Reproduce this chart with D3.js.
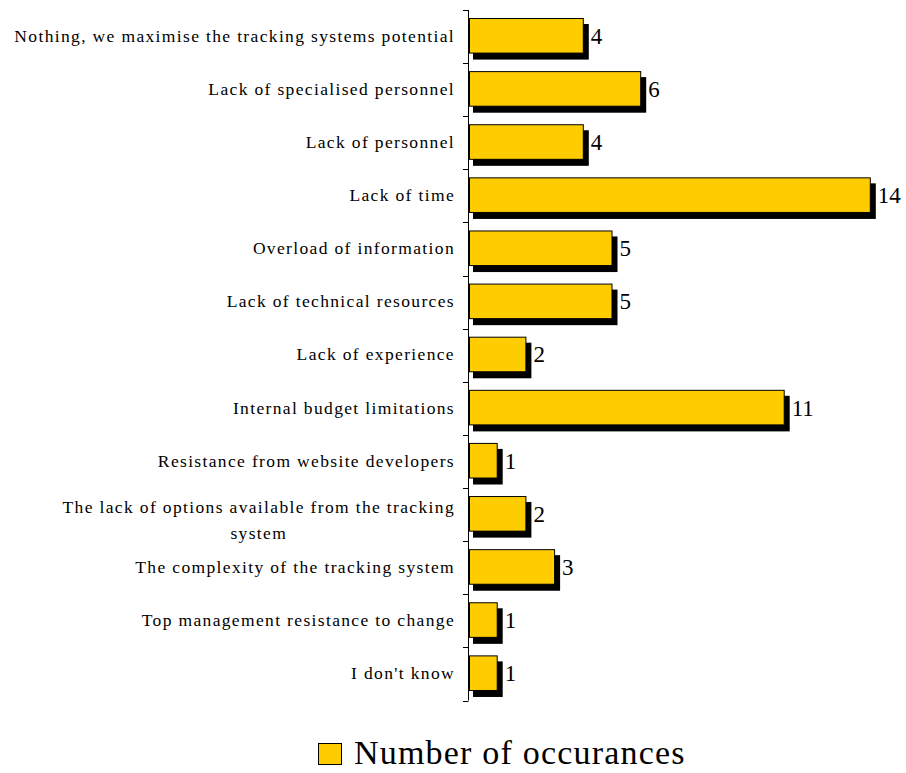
<!DOCTYPE html>
<meta charset="utf-8">
<style>
  body { margin: 0; background: #fff; }
  text { font-family: "Liberation Serif", "Times New Roman", serif; fill: #000; }
  .cat { font-size: 17.5px; letter-spacing: 1.35px; }
  .val { font-size: 23px; }
  .legend { font-size: 34px; letter-spacing: 1.2px; }
</style>
<body>
<script src="https://d3js.org/d3.v7.min.js"></script>
<script>
  // categories, top to bottom
  var categories = [
    "Nothing, we maximise the tracking systems potential",
    "Lack of specialised personnel",
    "Lack of personnel",
    "Lack of time",
    "Overload of information",
    "Lack of technical resources",
    "Lack of experience",
    "Internal budget limitations",
    "Resistance from website developers",
    "The lack of options available from the tracking|system",
    "The complexity of the tracking system",
    "Top management resistance to change",
    "I don't know"
  ];
  var values = [4, 6, 4, 14, 5, 5, 2, 11, 1, 2, 3, 1, 1];
  var seriesName = "Number of occurances";

  var width = 906, height = 773;
  var axisX = 468;
  var labelRight = 455;

  var svg = d3.select("body").append("svg")
    .attr("width", width)
    .attr("height", height);

  // scales
  var x = d3.scaleLinear().domain([0, 15]).range([axisX + 1, axisX + 1 + 15 * 28.7]);
  var y = d3.scaleBand().domain(categories).range([10, 700.5]).padding(0);

  var data = categories.map(function (c, i) { return { cat: c, value: values[i] }; });
  var barTop = 8, barH = y.bandwidth() * 0.67;

  // shadows
  svg.selectAll(".shadow")
    .data(data)
    .enter().append("rect")
    .attr("class", "shadow")
    .attr("x", x(0) + 4)
    .attr("y", function (d) { return y(d.cat) + barTop + 6; })
    .attr("width", function (d) { return x(d.value) - x(0) + 1; })
    .attr("height", barH)
    .attr("fill", "#000");

  // bars
  svg.selectAll(".bar")
    .data(data)
    .enter().append("rect")
    .attr("class", "bar")
    .attr("x", x(0) + 0.5)
    .attr("y", function (d) { return y(d.cat) + barTop + 0.5; })
    .attr("width", function (d) { return x(d.value) - x(0) - 1; })
    .attr("height", barH - 1)
    .attr("fill", "#FFCC00")
    .attr("stroke", "#000")
    .attr("stroke-width", 1);

  // value labels
  svg.selectAll(".val")
    .data(data)
    .enter().append("text")
    .attr("class", "val")
    .attr("x", function (d) { return x(d.value) + 7; })
    .attr("y", function (d) { return y(d.cat) + barTop + barH / 2 + 8; })
    .text(function (d) { return d.value; });

  // category axis: line with ticks at band boundaries
  var ax = svg.append("g");
  ax.append("line")
    .attr("x1", axisX + 0.5).attr("x2", axisX + 0.5)
    .attr("y1", y.range()[0]).attr("y2", y.range()[1])
    .attr("stroke", "#000");
  var bounds = categories.map(function (c) { return y(c); }).concat([y.range()[1]]);
  ax.selectAll(".tick")
    .data(bounds)
    .enter().append("line")
    .attr("x1", axisX - 5).attr("x2", axisX + 0.5)
    .attr("y1", function (d) { return Math.round(d) + 0.5; })
    .attr("y2", function (d) { return Math.round(d) + 0.5; })
    .attr("stroke", "#000");

  // category labels
  var labels = ax.selectAll(".cat")
    .data(data)
    .enter().append("text")
    .attr("class", "cat")
    .attr("text-anchor", "end")
    .attr("y", function (d) { return y(d.cat) + barTop + barH / 2 + 6; });
  labels.each(function (d) {
    var lines = d.cat.split("|");
    var t = d3.select(this);
    if (lines.length === 1) {
      t.attr("x", labelRight).text(lines[0]);
    } else {
      // two-line label, centred as a block, right edge at labelRight
      var tmp = t.append("tspan").text(lines[0]);
      var w = tmp.node().getComputedTextLength();
      tmp.remove();
      var cx = labelRight - w / 2;
      t.attr("text-anchor", "middle");
      lines.forEach(function (l, i) {
        t.append("tspan")
          .attr("x", cx)
          .attr("dy", i === 0 ? -7 : 26)
          .text(l);
      });
    }
  });

  // legend
  var lg = svg.append("g");
  lg.append("rect")
    .attr("x", 318.5).attr("y", 743.5)
    .attr("width", 23).attr("height", 21)
    .attr("fill", "#FFCC00").attr("stroke", "#000");
  lg.append("text")
    .attr("class", "legend")
    .attr("x", 354).attr("y", 764)
    .text(seriesName);
</script>
</body>
